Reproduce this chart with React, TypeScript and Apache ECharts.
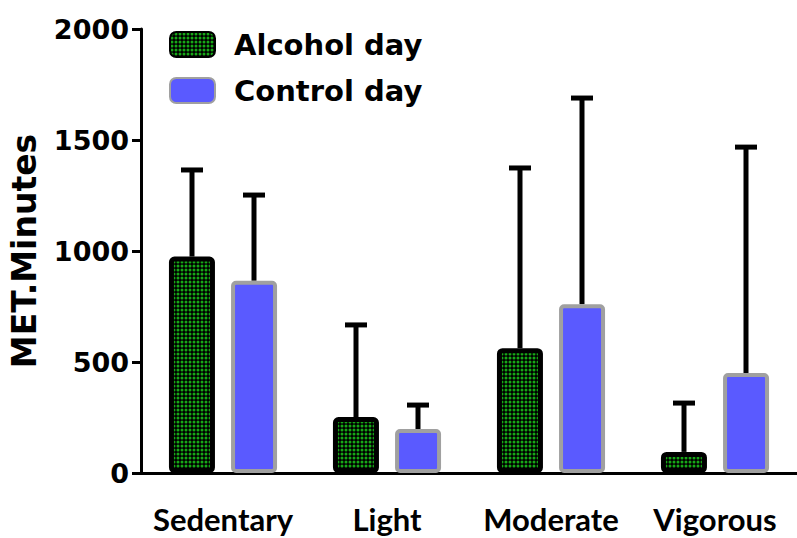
import React, { useEffect, useRef } from "react";
import * as echarts from "echarts";

const categories = ["Sedentary", "Light", "Moderate", "Vigorous"];
const alcoholMean = [975, 252, 562, 95];
const alcoholUpper = [1365, 667, 1374, 315];
const controlMean = [866, 198, 760, 450];
const controlUpper = [1252, 306, 1689, 1468];
const yTicks = [0, 500, 1000, 1500, 2000];

function makePattern() {
  const c = document.createElement("canvas");
  c.width = 4;
  c.height = 4;
  const ctx = c.getContext("2d")!;
  ctx.fillStyle = "#000";
  ctx.fillRect(0, 0, 4, 4);
  ctx.fillStyle = "#17a817";
  ctx.beginPath();
  ctx.arc(2, 2, 1.5, 0, Math.PI * 2);
  ctx.fill();
  return c;
}

export default function App() {
  const ref = useRef<HTMLDivElement>(null);
  useEffect(() => {
    const chart = echarts.init(ref.current!, null, { renderer: "svg" });
    const pattern = makePattern();
    const errRender = (offset: number, means: number[], uppers: number[]) =>
      (params: any, api: any) => {
        const i = api.value(0);
        const lo = api.coord([i, means[i]]);
        const hi = api.coord([i, uppers[i]]);
        const x = lo[0] + offset;
        return {
          type: "group",
          children: [
            { type: "line", shape: { x1: x, y1: lo[1], x2: x, y2: hi[1] }, style: { stroke: "#000", lineWidth: 5 } },
            { type: "line", shape: { x1: x - 11, y1: hi[1], x2: x + 11, y2: hi[1] }, style: { stroke: "#000", lineWidth: 5 } },
          ],
        };
      };
    chart.setOption({
      animation: false,
      grid: { left: 137, top: 29, width: 668, bottom: 65 },
      legend: {
        orient: "vertical",
        left: 164,
        top: 25,
        itemWidth: 45,
        itemHeight: 25,
        itemGap: 17,
        textStyle: { fontFamily: "DejaVu Sans", fontWeight: "bold", fontSize: 29, color: "#000", padding: [0, 0, 0, 14] },
        data: ["Alcohol day", "Control day"],
      },
      xAxis: {
        type: "category",
        data: categories,
        axisLine: { lineStyle: { color: "#000", width: 3 } },
        axisTick: { alignWithLabel: true, length: 9, lineStyle: { color: "#000", width: 3 } },
        axisLabel: { interval: 0, fontFamily: "Lato", fontWeight: "bold", fontSize: 31, color: "#000", margin: 30 },
      },
      yAxis: {
        type: "value",
        min: 0,
        max: 2000,
        interval: 500,
        name: "MET.Minutes",
        nameLocation: "middle",
        nameGap: 100,
        nameTextStyle: { fontFamily: "DejaVu Sans", fontWeight: "bold", fontSize: 33, color: "#000" },
        splitLine: { show: false },
        axisLine: { show: true, lineStyle: { color: "#000", width: 3 } },
        axisTick: { show: true, length: 9, lineStyle: { color: "#000", width: 3 } },
        axisLabel: {
          fontFamily: "DejaVu Sans",
          fontWeight: "bold",
          fontSize: 27,
          color: "#000",
          margin: 12,
          formatter: (v: number) => (yTicks.includes(v) ? String(v) : ""),
        },
      },
      series: [
        {
          name: "Alcohol day",
          type: "bar",
          data: alcoholMean,
          barWidth: 46,
          barGap: "35%",
          itemStyle: { color: { image: pattern, repeat: "repeat" }, borderColor: "#000", borderWidth: 5, borderRadius: 3 },
          z: 3,
        },
        {
          name: "Control day",
          type: "bar",
          data: controlMean,
          barWidth: 46,
          itemStyle: { color: "#5a5aff", borderColor: "#a0a0a0", borderWidth: 4, borderRadius: 3 },
          z: 3,
        },
        {
          type: "custom",
          data: categories.map((_, i) => [i]),
          renderItem: errRender(-31, alcoholMean, alcoholUpper),
          z: 2,
          silent: true,
        },
        {
          type: "custom",
          data: categories.map((_, i) => [i]),
          renderItem: errRender(31, controlMean, controlUpper),
          z: 2,
          silent: true,
        },
      ],
    });
    return () => chart.dispose();
  }, []);
  return <div ref={ref} style={{ width: 797, height: 538, position: "absolute", left: 0, top: 0, background: "#fff" }} />;
}
